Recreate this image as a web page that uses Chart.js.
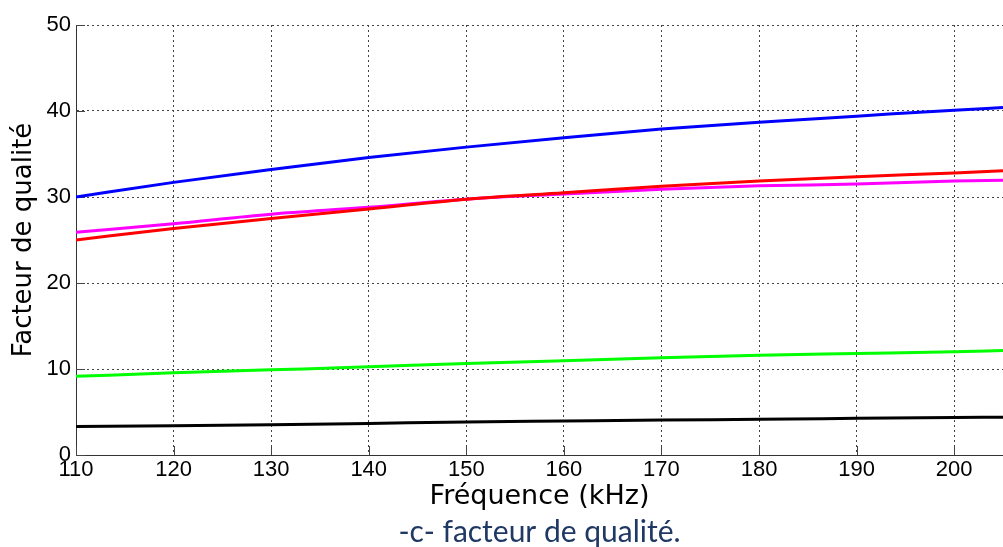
<!DOCTYPE html>
<html>
<head>
<meta charset="utf-8">
<script src="https://cdn.jsdelivr.net/npm/chart.js@4"></script>
<style>
html,body{margin:0;padding:0;background:#fff;}
#c{display:block;}
</style>
</head>
<body>
<canvas id="c" width="1003" height="547"></canvas>
<script>
// Frequency (kHz)
const freqs = [110, 120, 130, 140, 150, 160, 170, 180, 190, 200, 205];
// Quality factor series
const blueQ    = [30.0, 31.7, 33.2, 34.6, 35.8, 36.9, 37.9, 38.7, 39.4, 40.1, 40.4];
const redQ     = [25.0, 26.35, 27.5, 28.6, 29.75, 30.5, 31.25, 31.85, 32.35, 32.8, 33.05];
const magentaQ = [25.9, 26.9, 28.0, 28.8, 29.75, 30.35, 30.9, 31.3, 31.5, 31.85, 31.95];
const greenQ   = [9.15, 9.55, 9.9, 10.25, 10.65, 10.95, 11.3, 11.6, 11.8, 12.0, 12.15];
const blackQ   = [3.3, 3.4, 3.52, 3.67, 3.83, 3.95, 4.07, 4.15, 4.26, 4.37, 4.38];
const xTicks = [110, 120, 130, 140, 150, 160, 170, 180, 190, 200];
const yTicks = [0, 10, 20, 30, 40, 50];

function pts(arr){ return arr.map((v,i)=>({x: freqs[i], y: v})); }
function ds(arr, color){
  return {data: pts(arr), borderColor: color, backgroundColor: color, borderWidth: 3,
          pointRadius: 0, fill: false, cubicInterpolationMode: 'monotone'};
}

const innerTicks = {
  id: 'innerTicks',
  beforeDatasetsDraw(chart){
    const ctx = chart.ctx, a = chart.chartArea;
    const xs = chart.scales.x, ys = chart.scales.y;
    ctx.save();
    ctx.strokeStyle = '#444';
    ctx.lineWidth = 1;
    ctx.beginPath();
    xTicks.forEach(v=>{
      const px = Math.round(xs.getPixelForValue(v)) + 0.5;
      ctx.moveTo(px, a.bottom); ctx.lineTo(px, a.bottom - 9);
    });
    yTicks.forEach(v=>{
      const py = Math.round(ys.getPixelForValue(v)) + 0.5;
      ctx.moveTo(a.left, py); ctx.lineTo(a.left + 9, py);
    });
    ctx.stroke();
    ctx.restore();
  }
};

new Chart(document.getElementById('c'), {
  type: 'line',
  data: {
    datasets: [
      ds(blackQ, '#000000'),
      ds(greenQ, '#00ff00'),
      ds(redQ, '#ff0000'),
      ds(magentaQ, '#ff00ff'),
      ds(blueQ, '#0000ff')
    ]
  },
  options: {
    responsive: false,
    devicePixelRatio: 1,
    animation: false,
    layout: {padding: {top: 25, right: 0, bottom: 0, left: 0}},
    plugins: {
      legend: {display: false},
      tooltip: {enabled: false},
      title: {
        display: true, position: 'bottom', fullSize: false, text: '-c- facteur de qualité.',
        color: '#1F3864', font: {family: 'Lato', size: 30, weight: 'normal', lineHeight: 1},
        padding: {top: 3, bottom: 0}
      }
    },
    scales: {
      x: {
        type: 'linear', min: 110, max: 205,
        afterBuildTicks(scale){ scale.ticks = xTicks.map(v=>({value: v})); },
        afterFit(scale){ scale.height = 59; },
        ticks: {color: '#000', font: {family: 'Liberation Sans', size: 22}, padding: 2, maxRotation: 0, autoSkip: false},
        grid: {color: '#444', lineWidth: 1, drawTicks: false},
        border: {display: true, color: '#333', width: 1, dash: [2, 3]},
        title: {display: true, text: 'Fréquence (kHz)', color: '#000',
                font: {family: 'DejaVu Sans', size: 27}, padding: {top: 0, bottom: 1}}
      },
      y: {
        type: 'linear', min: 0, max: 50,
        afterBuildTicks(scale){ scale.ticks = yTicks.map(v=>({value: v})); },
        afterFit(scale){ scale.width = 76; },
        ticks: {color: '#000', font: {family: 'Liberation Sans', size: 22}, padding: 5},
        grid: {color: '#444', lineWidth: 1, drawTicks: false},
        border: {display: true, color: '#333', width: 1, dash: [2, 3]},
        title: {display: true, text: 'Facteur de qualité', color: '#000',
                font: {family: 'DejaVu Sans', size: 26}, padding: {top: 9, bottom: 0}}
      }
    }
  },
  plugins: [innerTicks]
});
</script>
</body>
</html>
